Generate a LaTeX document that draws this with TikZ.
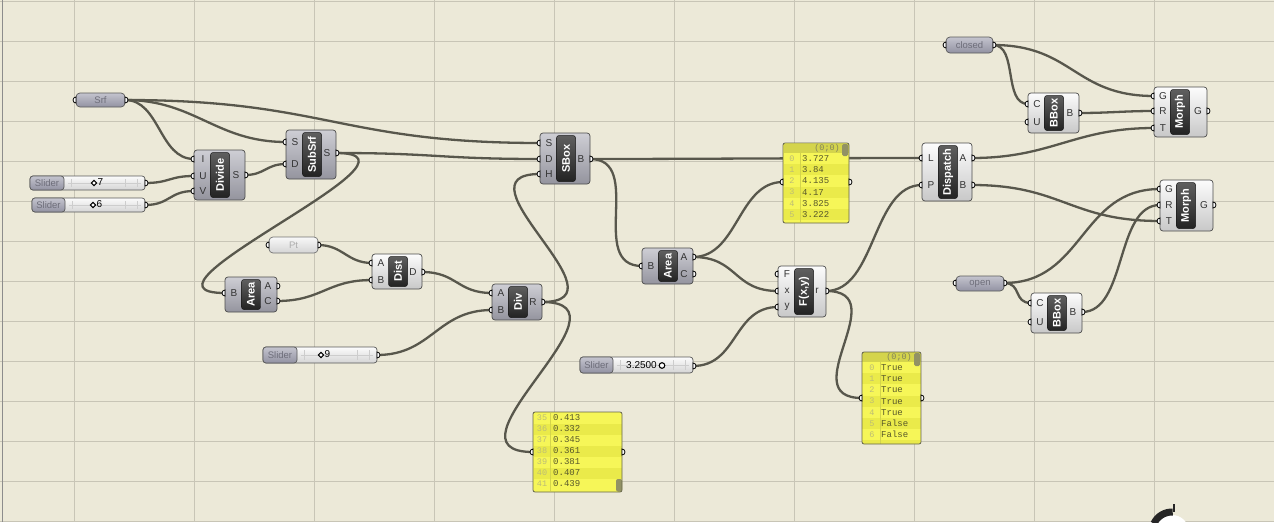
\documentclass[tikz,border=0pt]{standalone}
\usepackage{fontspec}
\setmainfont{Liberation Sans}
\newfontfamily\monof{Liberation Mono}
\usetikzlibrary{calc}
\pgfdeclarelayer{gridlayer}
\pgfdeclarelayer{wirelayer}
\pgfsetlayers{gridlayer,wirelayer,main}
\definecolor{bgc}{RGB}{236,233,216}
\definecolor{gridc}{RGB}{200,197,182}
\definecolor{wirec}{RGB}{88,87,76}
\definecolor{cdtop}{RGB}{206,206,212}
\definecolor{cdbot}{RGB}{148,148,158}
\definecolor{cltop}{RGB}{252,252,252}
\definecolor{clbot}{RGB}{200,200,200}
\definecolor{labtop}{RGB}{95,95,95}
\definecolor{labbot}{RGB}{35,35,35}
\definecolor{prtop}{RGB}{196,196,206}
\definecolor{prbot}{RGB}{146,146,162}
\definecolor{prtxt}{RGB}{110,110,122}
\definecolor{pltop}{RGB}{248,248,248}
\definecolor{plbot}{RGB}{212,212,212}
\definecolor{pltxt}{RGB}{172,172,172}
\definecolor{panely}{RGB}{246,246,88}
\definecolor{panels}{RGB}{234,234,74}
\definecolor{panelh}{RGB}{212,212,76}
\definecolor{panelb}{RGB}{100,100,78}
\definecolor{scrollc}{RGB}{146,146,100}
\definecolor{idxc}{RGB}{188,188,118}
\definecolor{valc}{RGB}{88,88,42}
\definecolor{hdrc}{RGB}{130,130,92}
\definecolor{tickc}{RGB}{205,205,205}

\tikzset{
  wire/.style={draw=wirec, line width=2.3pt},
  compdark/.style={draw=black!70, line width=0.7pt, rounded corners=3pt, top color=cdtop, bottom color=cdbot},
  complight/.style={draw=black!70, line width=0.7pt, rounded corners=3pt, top color=cltop, bottom color=clbot},
  labbox/.style={draw=black!90, line width=0.5pt, rounded corners=2.5pt, top color=labtop, bottom color=labbot},
  labtxt/.style={text=white, font=\bfseries\fontsize{11}{11}\selectfont, rotate=90, inner sep=0pt},
  griptxt/.style={font=\fontsize{10}{10}\selectfont, text=black!80, inner sep=0pt},
  grip/.style={fill=white, draw=black, line width=0.8pt},
  paramdark/.style={draw=black!65, line width=0.7pt, rounded corners=4pt, top color=prtop, bottom color=prbot},
  paramlight/.style={draw=black!55, line width=0.7pt, rounded corners=4pt, top color=pltop, bottom color=plbot},
  pdtxt/.style={text=prtxt, font=\fontsize{9.5}{9.5}\selectfont, inner sep=0pt},
  pltxtst/.style={text=pltxt, font=\fontsize{9.5}{9.5}\selectfont, inner sep=0pt},
  sliderR/.style={draw=black!65, line width=0.7pt, rounded corners=3pt, top color=cltop, bottom color=plbot},
  sliderL/.style={draw=black!65, line width=0.7pt, rounded corners=3pt, top color=prtop, bottom color=prbot},
  slidertxt/.style={text=prtxt, font=\fontsize{9.5}{9.5}\selectfont, inner sep=0pt},
  valslider/.style={text=black, font=\fontsize{10}{10}\selectfont, inner sep=0pt},
  panelbox/.style={draw=panelb, line width=0.8pt, rounded corners=2pt},
  idxtxt/.style={text=idxc, font=\monof\fontsize{8.5}{8.5}\selectfont, inner sep=0pt},
  valtxt/.style={text=valc, font=\monof\fontsize{9}{9}\selectfont, inner sep=0pt, anchor=west},
  hdrtxt/.style={text=hdrc, font=\monof\fontsize{8.5}{8.5}\selectfont, inner sep=0pt, anchor=east}
}

% component: name x1 y1 x2 y2 label style
\newcommand{\ghcomp}[7]{%
  \draw[#7] (#2,#3) rectangle (#4,#5);
  \draw[labbox] ({#2+16.5},{#3+2.5}) rectangle ({#2+35.5},{#5-2.5});
  \node[labtxt] (#1) at ({#2+26},{(#3+#5)/2}) {#6};
}
\newcommand{\gripL}[3]{%
  \coordinate (#1) at (#2,#3);
  \filldraw[grip] (#2,{#3-3}) arc[start angle=270,end angle=90,radius=3] -- cycle;
}
\newcommand{\gripR}[3]{%
  \coordinate (#1) at (#2,#3);
  \filldraw[grip] (#2,{#3-3}) arc[start angle=-90,end angle=90,radius=3] -- cycle;
}
\newcommand{\ghin}[4]{\node[griptxt] at ({#2+9},#3) {#4};\gripL{#1}{#2}{#3}}
\newcommand{\ghout}[4]{\node[griptxt] at ({#2-9},#3) {#4};\gripR{#1}{#2}{#3}}
% slider: name x1 y1 x2 y2 split
\newcommand{\ghslider}[6]{%
  \draw[sliderR] (#2,#3) rectangle (#4,#5);
  \draw[tickc, line width=0.4pt] ({#6+4},{(#3+#5)/2}) -- ({#4-4},{(#3+#5)/2});
  \foreach \tt in {7} {\draw[tickc, line width=0.4pt] ({#6+\tt},{#3+3}) -- ({#6+\tt},{#5-3});}
  \foreach \tt in {8,20} {\draw[tickc, line width=0.4pt] ({#4-\tt},{#3+3}) -- ({#4-\tt},{#5-3});}
  \draw[sliderL] (#2,#3) rectangle (#6,#5);
  \node[slidertxt] (#1) at ({(#2+#6)/2},{(#3+#5)/2}) {Slider};
}
\newcommand{\diamondmark}[2]{%
  \draw[black, line width=1pt, fill=white] ({#1-2.6},#2) -- (#1,{#2-2.6}) -- ({#1+2.6},#2) -- (#1,{#2+2.6}) -- cycle;
}
\newcommand{\wirec}[3]{\draw[wire] (#1) .. controls +(#3,0) and +(-#3,0) .. (#2);}

\begin{document}
\begin{tikzpicture}[x=1pt,y=-1pt]
\useasboundingbox (0,0) rectangle (1274,522);
\begin{pgfonlayer}{gridlayer}
  \fill[bgc] (0,0) rectangle (1274,522);
  \foreach \gx in {74,194,...,1154} {\draw[gridc, line width=0.9pt] (\gx,0) -- (\gx,522);}
  \foreach \gy in {1,41,...,521} {\draw[gridc, line width=0.9pt] (0,\gy) -- (1274,\gy);}
  \draw[black!45, line width=1.2pt] (2.5,0) -- (2.5,522);
\end{pgfonlayer}

% ---------- parameters ----------
\draw[paramdark] (76,93) rectangle (125,107);
\node[pdtxt] (srf) at (100.5,100) {Srf};
\gripL{srfi}{76}{100}\gripR{srfo}{125}{100}

\draw[paramlight] (269,237) rectangle (318,253);
\node[pltxtst] (pt) at (293.5,245) {Pt};
\gripL{pti}{269}{245}\gripR{pto}{318}{245}

\draw[paramdark] (946,37) rectangle (993,53);
\node[pdtxt] (closed) at (969.5,45) {closed};
\gripL{closedi}{946}{45}\gripR{closedo}{993}{45}

\draw[paramdark] (956,276) rectangle (1004,291);
\node[pdtxt] (open) at (980,283.5) {open};
\gripL{openi}{956}{283}\gripR{openo}{1004}{283}

% ---------- sliders ----------
\ghslider{sl1}{30}{176}{145}{190}{64}
\diamondmark{94}{183}\node[valslider, anchor=west] at (97.5,182.5) {7};
\gripR{sl1o}{145}{183}
\ghslider{sl2}{32}{198}{145}{212}{65}
\diamondmark{93}{205}\node[valslider, anchor=west] at (96.5,204.5) {6};
\gripR{sl2o}{145}{205}
\ghslider{sl3}{263}{347}{377}{363}{297}
\diamondmark{321}{355}\node[valslider, anchor=west] at (324.5,354.5) {9};
\gripR{sl3o}{377}{355}
\ghslider{sl4}{580}{357}{693}{373}{613}
\node[valslider, anchor=east] at (657,365) {3.2500};
\draw[black, line width=1.1pt, fill=white] (662,365.5) circle[radius=2.8];
\gripR{sl4o}{693}{366}

% ---------- components ----------
\ghcomp{divide}{194}{150}{245}{200}{Divide}{compdark}
\ghin{divI}{194}{159}{I}\ghin{divU}{194}{176}{U}\ghin{divV}{194}{191}{V}
\ghout{divS}{245}{175}{S}

\ghcomp{subsrf}{286}{130}{336}{179}{SubSrf}{compdark}
\ghin{subS}{286}{142}{S}\ghin{subD}{286}{164}{D}
\ghout{subSo}{336}{153}{S}

\ghcomp{areaL}{225}{277}{277}{312}{Area}{compdark}
\ghin{areaLB}{225}{293}{B}
\ghout{areaLA}{277}{286}{A}\ghout{areaLC}{277}{301}{C}

\ghcomp{dist}{372}{254}{422}{289}{Dist}{complight}
\ghin{distA}{372}{263}{A}\ghin{distB}{372}{280}{B}
\ghout{distD}{422}{272}{D}

\ghcomp{div}{492}{284}{542}{320}{Div}{compdark}
\ghin{dvA}{492}{293}{A}\ghin{dvB}{492}{310}{B}
\ghout{dvR}{542}{302}{R}

\ghcomp{sbox}{540}{133}{590}{184}{SBox}{compdark}
\ghin{sbS}{540}{143}{S}\ghin{sbD}{540}{159}{D}\ghin{sbH}{540}{174}{H}
\ghout{sbB}{590}{159}{B}

\ghcomp{areaM}{642}{248}{693}{284}{Area}{compdark}
\ghin{areaMB}{642}{266}{B}
\ghout{areaMA}{693}{257}{A}\ghout{areaMC}{693}{274}{C}

\ghcomp{fxy}{778}{266}{826}{317}{F(x,y)}{complight}
\ghin{fF}{778}{274}{F}\ghin{fx}{778}{291}{x}\ghin{fy}{778}{307}{y}
\ghout{fr}{826}{291}{r}

\ghcomp{dispatch}{922}{143}{972}{201}{Dispatch}{complight}
\ghin{dL}{922}{158}{L}\ghin{dP}{922}{185}{P}
\ghout{dA}{972}{158}{A}\ghout{dB}{972}{185}{B}

\ghcomp{bbox1}{1028}{93}{1079}{133}{BBox}{complight}
\ghin{bb1C}{1028}{104}{C}\ghin{bb1U}{1028}{122}{U}
\ghout{bb1B}{1079}{113}{B}

\ghcomp{morph1}{1154}{87}{1207}{137}{Morph}{complight}
\ghin{m1G}{1154}{96}{G}\ghin{m1R}{1154}{111}{R}\ghin{m1T}{1154}{128}{T}
\ghout{m1o}{1207}{111}{G}

\ghcomp{morph2}{1160}{180}{1213}{231}{Morph}{complight}
\ghin{m2G}{1160}{189}{G}\ghin{m2R}{1160}{205}{R}\ghin{m2T}{1160}{221}{T}
\ghout{m2o}{1213}{205}{G}

\ghcomp{bbox2}{1031}{293}{1082}{333}{BBox}{complight}
\ghin{bb2C}{1031}{303}{C}\ghin{bb2U}{1031}{322}{U}
\ghout{bb2B}{1082}{312}{B}

% ---------- panel 1 ----------
\fill[panely, rounded corners=2pt] (783,143) rectangle (849,223);
\fill[panelh] (783.5,143.5) rectangle (848.5,153);
\foreach \i in {1,3,5} {\fill[panels] (783.5,{153+11.2*\i}) rectangle (848.5,{153+11.2*(\i+1)});}
\draw[panelh, line width=0.6pt] (800,153) -- (800,222);
\fill[scrollc, rounded corners=1.5pt] (842,144) rectangle (848,156);
\node[hdrtxt] at (840,148) {(0;0)};
\foreach \i/\v in {0/3.727,1/3.84,2/4.135,3/4.17,4/3.825,5/3.222}
  {\node[idxtxt] at (792,{158.5+11.2*\i}) {\i};
   \node[valtxt] at (802,{158.5+11.2*\i}) {\v};}
\draw[panelbox] (783,143) rectangle (849,223);
\node[inner sep=0pt] (pan1) at (816,183) {};
\gripL{p1in}{783}{182}\gripR{p1out}{849}{182}

% ---------- panel 2 ----------
\begin{scope}
\clip[rounded corners=2pt] (862,352) rectangle (921,444);
\fill[panely] (862,352) rectangle (921,444);
\fill[panelh] (862,352) rectangle (921,362);
\foreach \i in {1,3,5,7} {\fill[panels] (862,{362+11.2*\i}) rectangle (921,{362+11.2*(\i+1)});}
\draw[panelh, line width=0.6pt] (880,362) -- (880,444);
\fill[scrollc, rounded corners=1.5pt] (914,353) rectangle (920,366);
\node[hdrtxt] at (912,357) {(0;0)};
\foreach \i/\v in {0/True,1/True,2/True,3/True,4/True,5/False,6/False}
  {\node[idxtxt] at (872,{367.5+11.2*\i}) {\i};
   \node[valtxt] at (881,{367.5+11.2*\i}) {\v};}
\node[valtxt] at (881,449) {T};
\end{scope}
\draw[panelbox] (862,352) rectangle (921,444);
\node[inner sep=0pt] (pan2) at (891,398) {};
\gripL{p2in}{862}{398}\gripR{p2out}{921}{398}

% ---------- panel 3 ----------
\fill[panely, rounded corners=2pt] (533,412) rectangle (622,492);
\foreach \i in {1,3,5} {\fill[panels] (533.5,{412.5+11*\i}) rectangle (621.5,{412.5+11*(\i+1)});}
\draw[panelh, line width=0.6pt] (550,413) -- (550,491);
\foreach \i/\v in {35/0.413,36/0.332,37/0.345,38/0.361,39/0.381,40/0.407,41/0.439}
  {\node[idxtxt] at (542,{418+11*(\i-35)}) {\i};
   \node[valtxt] at (553,{418+11*(\i-35)}) {\v};}
\fill[scrollc, rounded corners=2pt] (616,479) rectangle (622,491.5);
\draw[panelbox] (533,412) rectangle (622,492);
\node[inner sep=0pt] (pan3) at (577,452) {};
\gripL{p3in}{533}{452}\gripR{p3out}{622}{452}

% ---------- navigation widget ----------
\fill[white] (1172,532) circle[radius=17];
\draw[black!85, line width=7pt] ($(1172,532)+(205:20)$) arc[start angle=205, end angle=272, radius=20];
\draw[black!85, line width=1.5pt] (1174,504) -- (1174,512);

% ---------- wires ----------
\begin{pgfonlayer}{wirelayer}
\wirec{srfo}{divI}{35}
\wirec{srfo}{subS}{70}
\wirec{srfo}{sbS}{200}
\wirec{sl1o}{divU}{25}
\wirec{sl2o}{divV}{25}
\wirec{divS}{subD}{20}
\wirec{subSo}{sbD}{100}
\wirec{subSo}{areaLB}{110}
\wirec{pto}{distA}{25}
\wirec{areaLC}{distB}{45}
\wirec{distD}{dvA}{35}
\wirec{sl3o}{dvB}{55}
\wirec{dvR}{sbH}{90}
\wirec{dvR}{p3in}{100}
\wirec{sbB}{dL}{100}
\wirec{sbB}{areaMB}{55}
\wirec{areaMA}{p1in}{45}
\wirec{areaMA}{fx}{45}
\wirec{sl4o}{fy}{45}
\wirec{fr}{dP}{50}
\wirec{fr}{p2in}{70}
\wirec{closedo}{bb1C}{25}
\wirec{closedo}{m1G}{80}
\wirec{bb1B}{m1R}{30}
\wirec{dA}{m1T}{80}
\wirec{dB}{m2T}{90}
\wirec{openo}{m2G}{80}
\wirec{openo}{bb2C}{18}
\wirec{bb2B}{m2R}{45}
\end{pgfonlayer}
\end{tikzpicture}
\end{document}
